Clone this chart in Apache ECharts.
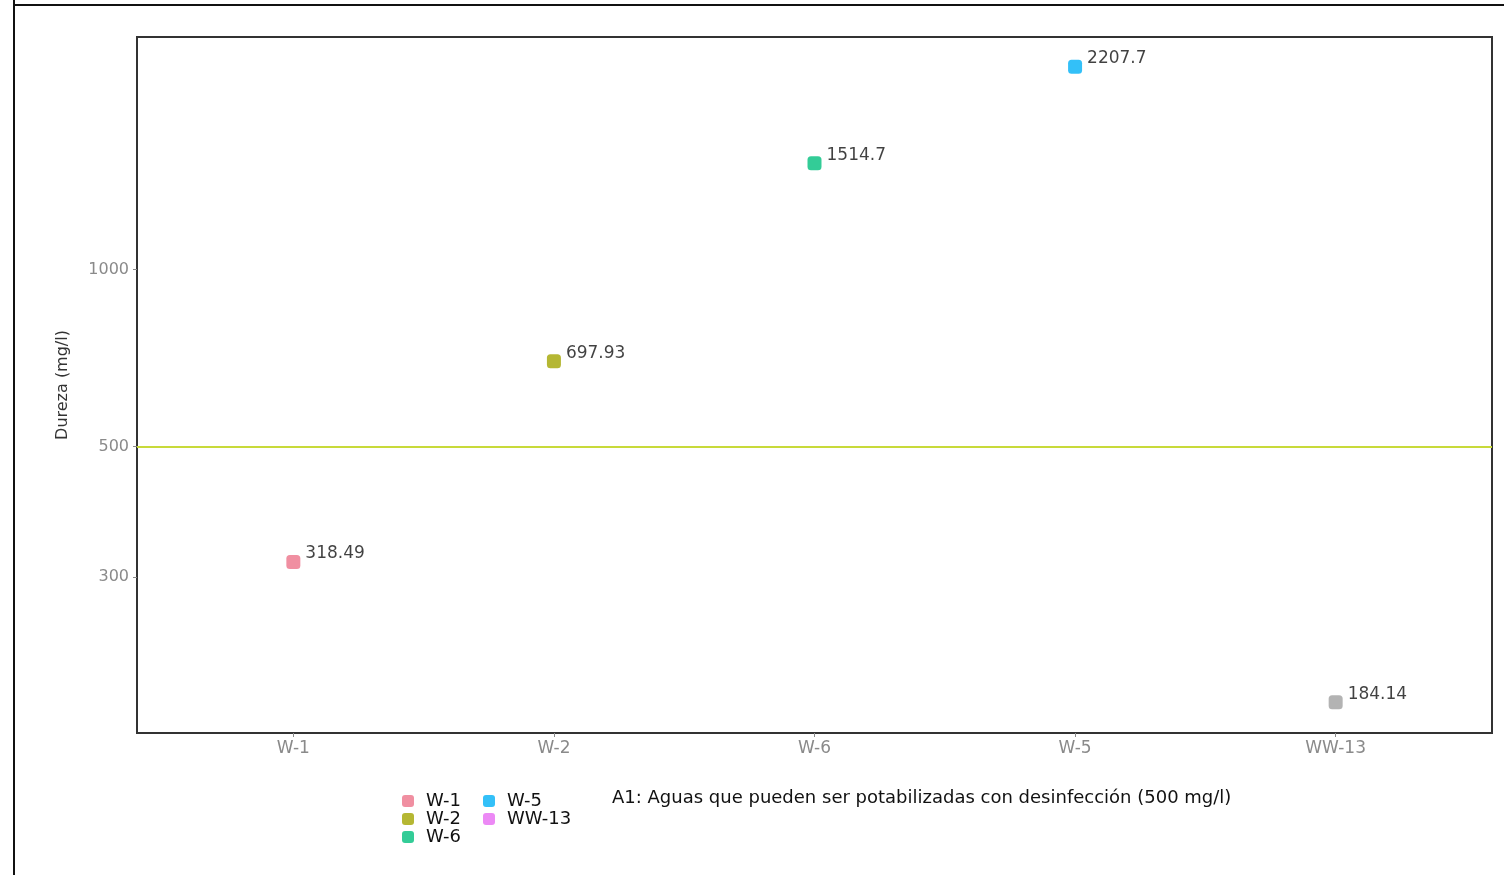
<!DOCTYPE html>
<html>
<head>
<meta charset="utf-8">
<script src="https://cdn.jsdelivr.net/npm/echarts@6/dist/echarts.min.js"></script>
<style>html,body{margin:0;padding:0;background:#fff}#c{width:1504px;height:875px}</style>
</head>
<body>
<div id="c"></div>
<script>
const categories = ['W-1', 'W-2', 'W-6', 'W-5', 'WW-13'];
const values = [318.49, 697.93, 1514.7, 2207.7, 184.14];
const seriesColors = ['#EC7389', '#A3A500', '#00BF7D', '#00B0F6', '#E76BF3'];
const pointColors = ['#EC7389', '#A3A500', '#00BF7D', '#00B0F6', '#A0A0A0'];
const yTicks = [300, 500, 1000];
const refValue = 500;
const refLabel = 'A1: Aguas que pueden ser potabilizadas con desinfección (500 mg/l)';
const yTitle = 'Dureza (mg/l)';

const FONT = 'DejaVu Sans';
const chart = echarts.init(document.getElementById('c'));
const series = categories.map((name, i) => ({
  name: name,
  type: 'scatter',
  symbol: 'roundRect',
  symbolSize: 14,
  itemStyle: { color: seriesColors[i] },
  data: [{ value: [i, values[i]], itemStyle: { color: pointColors[i] } }],
  label: {
    show: true, position: 'right', offset: [0, -8],
    formatter: () => String(values[i]),
    color: '#111', fontSize: 17, fontFamily: FONT
  },
  z: 3
}));
series[0].markLine = {
  silent: true, symbol: ['none', 'none'],
  label: { show: false },
  lineStyle: { color: '#C8DA3A', width: 2, type: 'solid' },
  data: [{ yAxis: refValue }]
};

const legendText = { color: '#111', fontSize: 18, fontFamily: FONT, lineHeight: 17, padding: [0, 0, 0, 7] };
chart.setOption({
  animation: false,
  grid: { left: 137, top: 37, right: 12, bottom: 142, show: true, borderColor: '#333', borderWidth: 2, backgroundColor: 'transparent' },
  xAxis: {
    type: 'value', min: -0.6, max: 4.6,
    splitLine: { show: false },
    axisLine: { show: false, onZero: false },
    axisTick: { show: true, customValues: [0, 1, 2, 3, 4], length: 4, lineStyle: { color: '#888' } },
    axisLabel: {
      customValues: [0, 1, 2, 3, 4],
      formatter: v => categories[Math.round(v)],
      color: '#8a8a8a', fontSize: 17, fontFamily: FONT, margin: 7
    }
  },
  yAxis: {
    type: 'log', min: 163.2, max: 2481,
    name: yTitle, nameLocation: 'middle', nameGap: 66, nameRotate: 90,
    nameTextStyle: { color: '#333', fontSize: 16, fontFamily: FONT },
    splitLine: { show: false },
    minorSplitLine: { show: false },
    axisLine: { show: false, onZero: false },
    axisTick: { show: true, customValues: yTicks, length: 4, lineStyle: { color: '#888' } },
    axisLabel: {
      customValues: yTicks,
      formatter: v => String(Math.round(v)),
      color: '#8a8a8a', fontSize: 16, fontFamily: FONT, margin: 8
    }
  },
  legend: [
    { orient: 'vertical', left: 397, top: 787, itemGap: 0, itemWidth: 12, itemHeight: 12, icon: 'roundRect',
      data: categories.slice(0, 3), textStyle: legendText },
    { orient: 'vertical', left: 478, top: 787, itemGap: 0, itemWidth: 12, itemHeight: 12, icon: 'roundRect',
      data: categories.slice(3), textStyle: legendText }
  ],
  graphic: [
    { type: 'text', left: 612, top: 789, style: { text: refLabel, fill: '#111', fontSize: 18, fontFamily: FONT } },
    { type: 'line', shape: { x1: 14, y1: 0, x2: 14, y2: 875 }, style: { stroke: '#111', lineWidth: 2 } },
    { type: 'line', shape: { x1: 14, y1: 5, x2: 1504, y2: 5 }, style: { stroke: '#111', lineWidth: 2 } }
  ],
  series: series
});
</script>
</body>
</html>
